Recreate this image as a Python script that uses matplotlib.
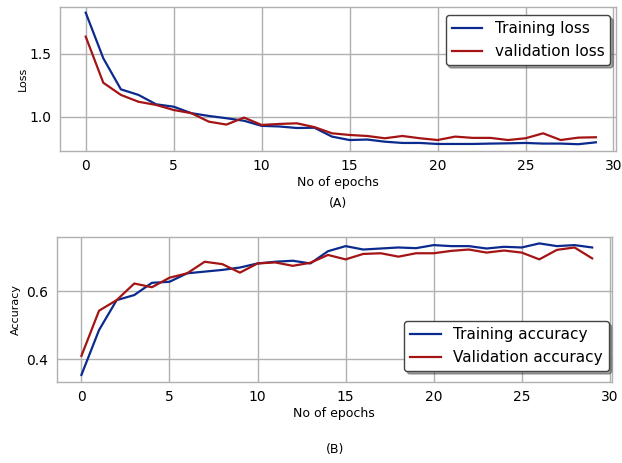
import matplotlib
matplotlib.use("Agg")
import matplotlib.pyplot as plt
import numpy as np

epochs = list(range(30))
train_loss = [1.823, 1.463, 1.218, 1.174, 1.100, 1.081, 1.030, 1.008, 0.990, 0.970,
              0.930, 0.925, 0.913, 0.915, 0.845, 0.818, 0.822, 0.805, 0.795, 0.795,
              0.787, 0.787, 0.787, 0.790, 0.792, 0.795, 0.790, 0.790, 0.785, 0.800]
val_loss = [1.634, 1.270, 1.174, 1.120, 1.095, 1.055, 1.030, 0.963, 0.940, 0.995,
            0.937, 0.945, 0.950, 0.920, 0.871, 0.858, 0.850, 0.832, 0.850, 0.832,
            0.818, 0.845, 0.835, 0.835, 0.818, 0.832, 0.871, 0.818, 0.837, 0.840]
train_acc = [0.354, 0.486, 0.574, 0.589, 0.625, 0.628, 0.653, 0.658, 0.663, 0.670,
             0.682, 0.687, 0.690, 0.682, 0.718, 0.733, 0.723, 0.726, 0.729, 0.727,
             0.736, 0.733, 0.733, 0.726, 0.731, 0.729, 0.741, 0.733, 0.736, 0.729]
val_acc = [0.410, 0.543, 0.574, 0.623, 0.612, 0.640, 0.653, 0.687, 0.680, 0.655,
           0.682, 0.685, 0.675, 0.684, 0.707, 0.694, 0.710, 0.712, 0.702, 0.712,
           0.712, 0.719, 0.723, 0.714, 0.720, 0.714, 0.694, 0.722, 0.729, 0.697]

xticks = [0, 5, 10, 15, 20, 25, 30]
c_train = '#0b2a8e'
c_val = '#a41414'
grid_c = '#b0b0b0'

fig = plt.figure(figsize=(6.22, 4.63), dpi=100)
ax1 = fig.add_axes([0.0965, 0.674, 0.8935, 0.311])
ax2 = fig.add_axes([0.091, 0.1756, 0.893, 0.3119])

def style(ax):
    ax.set_facecolor('white')
    ax.grid(True, color=grid_c, linewidth=1.0)
    ax.set_axisbelow(True)
    for s in ax.spines.values():
        s.set_color(grid_c)
        s.set_linewidth(1.0)
    ax.tick_params(length=0, labelsize=10, pad=6, colors='black')
    ax.set_xticks(xticks)

# Top: loss
ax1.plot(epochs, train_loss, color=c_train, lw=1.6, label='Training loss')
ax1.plot(epochs, val_loss, color=c_val, lw=1.6, label='validation loss')
style(ax1)
ax1.set_xlim(-1.46, 30.13)
ax1.set_ylim(0.732, 1.868)
ax1.set_yticks([1.0, 1.5])
ax1.set_yticklabels(['1.0', '1.5'])
ax1.set_xlabel('No of epochs', fontsize=9, labelpad=2)
ax1.set_ylabel('Loss', fontsize=8, labelpad=1)
ax1.legend(loc='upper right', fontsize=11, shadow=True, fancybox=True,
           framealpha=1, edgecolor='#444444', borderaxespad=0.5,
           handlelength=2.0, bbox_to_anchor=(1.004, 0.995))
fig.text(0.543, 1 - 203 / 463, '(A)', fontsize=9, ha='center', va='center')

# Bottom: accuracy
ax2.plot(epochs, train_acc, color=c_train, lw=1.6, label='Training accuracy')
ax2.plot(epochs, val_acc, color=c_val, lw=1.6, label='Validation accuracy')
style(ax2)
ax2.set_xlim(-1.41, 30.13)
ax2.set_ylim(0.334, 0.759)
ax2.set_yticks([0.4, 0.6])
ax2.set_yticklabels(['0.4', '0.6'])
ax2.set_xlabel('No of epochs', fontsize=9, labelpad=2)
ax2.set_ylabel('Accuracy', fontsize=8, labelpad=4)
ax2.legend(loc='lower right', fontsize=11, shadow=True, fancybox=True,
           framealpha=1, edgecolor='#444444', borderaxespad=0.5,
           handlelength=2.0, bbox_to_anchor=(1.008, 0.02))
fig.text(0.538, 1 - 450 / 463, '(B)', fontsize=9, ha='center', va='center')

fig.savefig('out.png', dpi=100, facecolor='white')
